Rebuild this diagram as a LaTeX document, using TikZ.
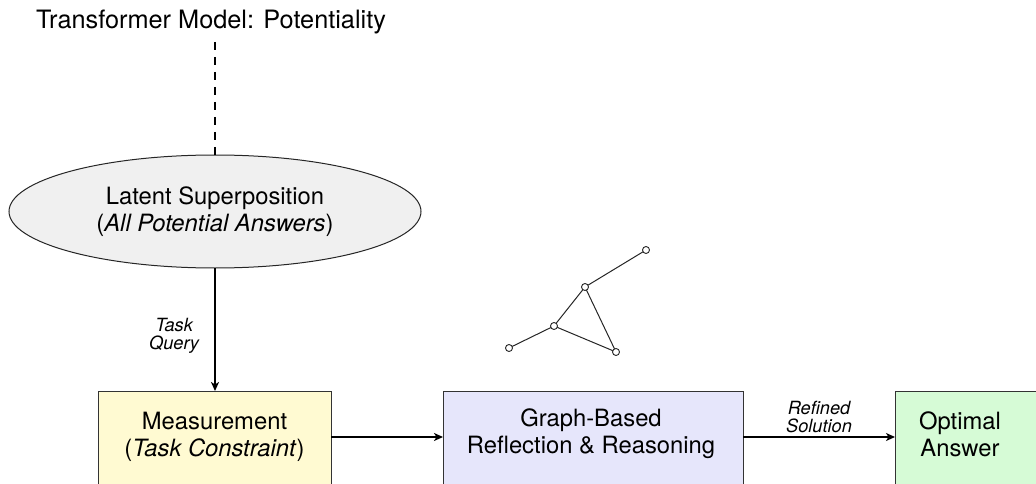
\documentclass[tikz,border=0pt]{standalone}
\usepackage{fontspec}
\setmainfont{TeX Gyre Heros}
\usetikzlibrary{shapes.geometric,arrows.meta}
\definecolor{ellfill}{HTML}{F0F0F0}
\definecolor{measfill}{HTML}{FFFAD2}
\definecolor{graphfill}{HTML}{E6E6FB}
\definecolor{optfill}{HTML}{D6FBD6}
\begin{document}
\begin{tikzpicture}[x=1pt,y=-1pt,
  every node/.style={inner sep=0pt, outer sep=0pt},
  lbl/.style={font=\fontsize{23.8}{27}\selectfont, align=center},
  small/.style={font=\fontsize{18.2}{18}\selectfont\itshape, align=center},
  box/.style={draw=black!80, line width=0.9pt, minimum height=140pt, anchor=north west},
  arr/.style={line width=1.6pt, -{Stealth[length=9pt,width=8pt,inset=2.5pt]}},
  gnode/.style={circle, draw=black!85, fill=white, line width=0.9pt, minimum size=7pt},
  gedge/.style={line width=1pt, draw=black!85}]
\useasboundingbox (0,0) rectangle (1036,484);
\clip (0,0) rectangle (1036,484);

% title
\node[font=\fontsize{25.3}{30}\selectfont, anchor=base] (title) at (211,28.3) {Transformer Model: Potentiality};
\coordinate (dtop) at (215,42);

% ellipse
\node[ellipse, draw=black!85, fill=ellfill, line width=1pt, minimum width=412pt, minimum height=113pt, lbl] (ell) at (215,211.5)
  {Latent Superposition\\(\textit{All Potential Answers})};
\draw[line width=1.6pt, dash pattern=on 8pt off 7pt] (dtop) -- (ell.north);

% boxes
\node[box, fill=measfill, minimum width=233pt] (meas) at (98,391) {};
\node[lbl] (meast) at (214.5,437) {Measurement\\(\textit{Task Constraint})};

\node[box, fill=graphfill, minimum width=300pt] (graph) at (443,391) {};
\node[lbl] (grapht) at (591,434) {Graph-Based\\Reflection \& Reasoning};

\node[box, fill=optfill, minimum width=220pt] (opt) at (895,391) {};
\node[lbl] (optt) at (960,434) {Optimal\\Answer};

% arrows
\draw[arr] (ell.south) -- (ell.south |- meas.north) node[pos=0.55, small, anchor=east, xshift=-16pt] (tq) {Task\\Query};
\draw[arr] (meas.east |- meast.center) -- (graph.west |- meast.center);
\draw[arr] (graph.east |- meast.center) -- (opt.west |- meast.center) node[midway, small, anchor=south, yshift=4pt] (rs) {Refined\\Solution};

% graph glyph
\node[gnode] (g1) at (646,250) {};
\node[gnode] (g2) at (585,287) {};
\node[gnode] (g3) at (554,326) {};
\node[gnode] (g4) at (509,348) {};
\node[gnode] (g5) at (616,352) {};
\draw[gedge] (g1) -- (g2);
\draw[gedge] (g2) -- (g3);
\draw[gedge] (g2) -- (g5);
\draw[gedge] (g3) -- (g5);
\draw[gedge] (g3) -- (g4);
\end{tikzpicture}
\end{document}
